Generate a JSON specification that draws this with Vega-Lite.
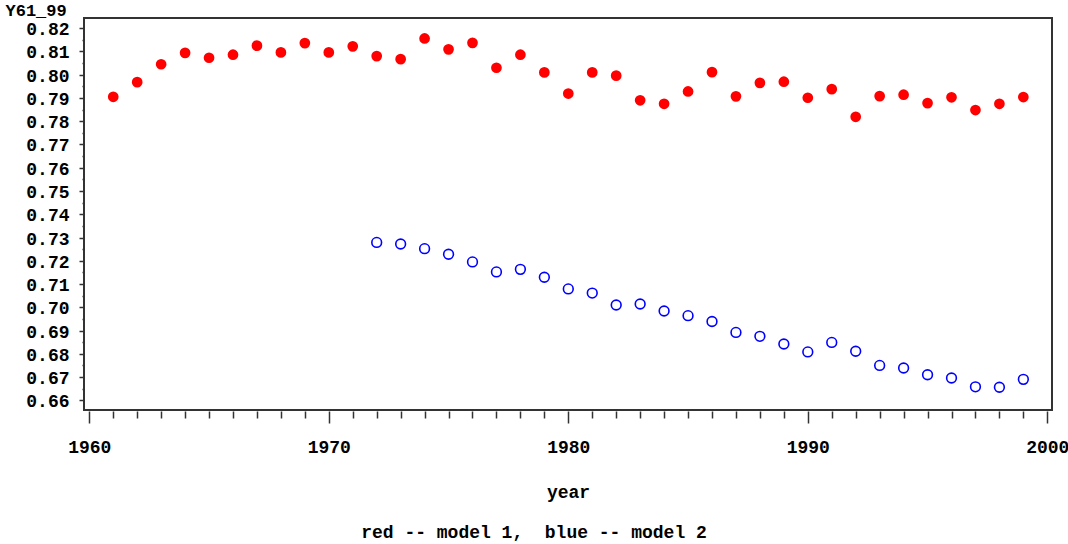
{
  "$schema": "https://vega.github.io/schema/vega-lite/v6.json",
  "width": 968,
  "height": 392,
  "autosize": {"type": "none"},
  "padding": {"left": 84, "top": 18, "right": 16, "bottom": 134},
  "background": "white",
  "datasets": {
    "m1": [
      {"year": 1961, "Y61_99": 0.7905}, {"year": 1962, "Y61_99": 0.7968}, {"year": 1963, "Y61_99": 0.8045},
      {"year": 1964, "Y61_99": 0.8094}, {"year": 1965, "Y61_99": 0.8073}, {"year": 1966, "Y61_99": 0.8086},
      {"year": 1967, "Y61_99": 0.8125}, {"year": 1968, "Y61_99": 0.8096}, {"year": 1969, "Y61_99": 0.8136},
      {"year": 1970, "Y61_99": 0.8096}, {"year": 1971, "Y61_99": 0.8122}, {"year": 1972, "Y61_99": 0.8080},
      {"year": 1973, "Y61_99": 0.8067}, {"year": 1974, "Y61_99": 0.8156}, {"year": 1975, "Y61_99": 0.8109},
      {"year": 1976, "Y61_99": 0.8137}, {"year": 1977, "Y61_99": 0.8030}, {"year": 1978, "Y61_99": 0.8086},
      {"year": 1979, "Y61_99": 0.8010}, {"year": 1980, "Y61_99": 0.7919}, {"year": 1981, "Y61_99": 0.8010},
      {"year": 1982, "Y61_99": 0.7996}, {"year": 1983, "Y61_99": 0.7890}, {"year": 1984, "Y61_99": 0.7875},
      {"year": 1985, "Y61_99": 0.7928}, {"year": 1986, "Y61_99": 0.8011}, {"year": 1987, "Y61_99": 0.7907},
      {"year": 1988, "Y61_99": 0.7965}, {"year": 1989, "Y61_99": 0.7970}, {"year": 1990, "Y61_99": 0.7901},
      {"year": 1991, "Y61_99": 0.7938}, {"year": 1992, "Y61_99": 0.7819}, {"year": 1993, "Y61_99": 0.7908},
      {"year": 1994, "Y61_99": 0.7914}, {"year": 1995, "Y61_99": 0.7878}, {"year": 1996, "Y61_99": 0.7903},
      {"year": 1997, "Y61_99": 0.7848}, {"year": 1998, "Y61_99": 0.7875}, {"year": 1999, "Y61_99": 0.7904}
    ],
    "m2": [
      {"year": 1972, "Y61_99": 0.7279}, {"year": 1973, "Y61_99": 0.7272}, {"year": 1974, "Y61_99": 0.7252},
      {"year": 1975, "Y61_99": 0.7228}, {"year": 1976, "Y61_99": 0.7195}, {"year": 1977, "Y61_99": 0.7152},
      {"year": 1978, "Y61_99": 0.7163}, {"year": 1979, "Y61_99": 0.7129}, {"year": 1980, "Y61_99": 0.7079},
      {"year": 1981, "Y61_99": 0.7061}, {"year": 1982, "Y61_99": 0.7010}, {"year": 1983, "Y61_99": 0.7014},
      {"year": 1984, "Y61_99": 0.6984}, {"year": 1985, "Y61_99": 0.6964}, {"year": 1986, "Y61_99": 0.6939},
      {"year": 1987, "Y61_99": 0.6892}, {"year": 1988, "Y61_99": 0.6875}, {"year": 1989, "Y61_99": 0.6842},
      {"year": 1990, "Y61_99": 0.6808}, {"year": 1991, "Y61_99": 0.6849}, {"year": 1992, "Y61_99": 0.6811},
      {"year": 1993, "Y61_99": 0.6750}, {"year": 1994, "Y61_99": 0.6739}, {"year": 1995, "Y61_99": 0.6710},
      {"year": 1996, "Y61_99": 0.6696}, {"year": 1997, "Y61_99": 0.6658}, {"year": 1998, "Y61_99": 0.6656},
      {"year": 1999, "Y61_99": 0.6690}
    ]
  },
  "title": {
    "text": "red -- model 1,\u00a0\u00a0blue -- model 2",
    "orient": "bottom",
    "anchor": "middle",
    "frame": "group",
    "dx": -34,
    "offset": 23,
    "baseline": "top",
    "font": "Liberation Mono",
    "fontSize": 18,
    "fontWeight": "bold",
    "color": "black"
  },
  "encoding": {
    "x": {
      "field": "year",
      "type": "quantitative",
      "scale": {"domain": [1959.779, 2000.196], "nice": false, "zero": false},
      "axis": {
        "values": [1960,1961,1962,1963,1964,1965,1966,1967,1968,1969,1970,1971,1972,1973,1974,1975,1976,1977,1978,1979,1980,1981,1982,1983,1984,1985,1986,1987,1988,1989,1990,1991,1992,1993,1994,1995,1996,1997,1998,1999,2000],
        "labelExpr": "datum.value % 10 === 0 ? format(datum.value, 'd') : ''",
        "tickSize": {"condition": {"test": "datum.value % 10 === 0", "value": 12}, "value": 7},
        "offset": 1,
        "domain": false,
        "grid": false,
        "tickColor": "#333333",
        "tickWidth": 1.5,
        "labelOverlap": false,
        "labelFlush": false,
        "labelBound": false,
        "labelFont": "Liberation Mono",
        "labelFontWeight": "bold",
        "labelFontSize": 18,
        "labelColor": "black",
        "labelPadding": 15,
        "title": "year",
        "titleFont": "Liberation Mono",
        "titleFontWeight": "bold",
        "titleFontSize": 18,
        "titleColor": "black",
        "titleBaseline": "alphabetic",
        "titleY": 86
      }
    },
    "y": {
      "field": "Y61_99",
      "type": "quantitative",
      "scale": {"domain": [0.65583, 0.82439], "nice": false, "zero": false},
      "axis": {
        "values": [0.66,0.665,0.67,0.675,0.68,0.685,0.69,0.695,0.7,0.705,0.71,0.715,0.72,0.725,0.73,0.735,0.74,0.745,0.75,0.755,0.76,0.765,0.77,0.775,0.78,0.785,0.79,0.795,0.8,0.805,0.81,0.815,0.82],
        "labelExpr": "round(datum.value * 200) % 2 === 0 ? format(datum.value, '.2f') : ''",
        "tickSize": {"condition": {"test": "round(datum.value * 200) % 2 === 0", "value": 5}, "value": 2},
        "domain": false,
        "grid": false,
        "tickColor": "#333333",
        "tickWidth": 1.5,
        "labelOverlap": false,
        "labelBound": false,
        "labelFont": "Liberation Mono",
        "labelFontWeight": "bold",
        "labelFontSize": 18,
        "labelColor": "black",
        "labelPadding": 10,
        "labelBaseline": "middle",
        "labelOffset": 1.5,
        "title": "Y61_99",
        "titleFont": "Liberation Mono",
        "titleFontWeight": "bold",
        "titleFontSize": 17,
        "titleColor": "black",
        "titleAngle": 0,
        "titleAlign": "left",
        "titleBaseline": "alphabetic",
        "titleX": -79,
        "titleY": -3
      }
    }
  },
  "layer": [
    {
      "data": {"name": "m1"},
      "mark": {"type": "point", "shape": "circle", "filled": true, "size": 115, "color": "#ff0000", "opacity": 1}
    },
    {
      "data": {"name": "m2"},
      "mark": {"type": "point", "shape": "circle", "filled": false, "size": 95, "color": "#0000ff", "strokeWidth": 1.6, "opacity": 1}
    }
  ],
  "config": {
    "view": {"stroke": "#333333", "strokeWidth": 2}
  }
}
